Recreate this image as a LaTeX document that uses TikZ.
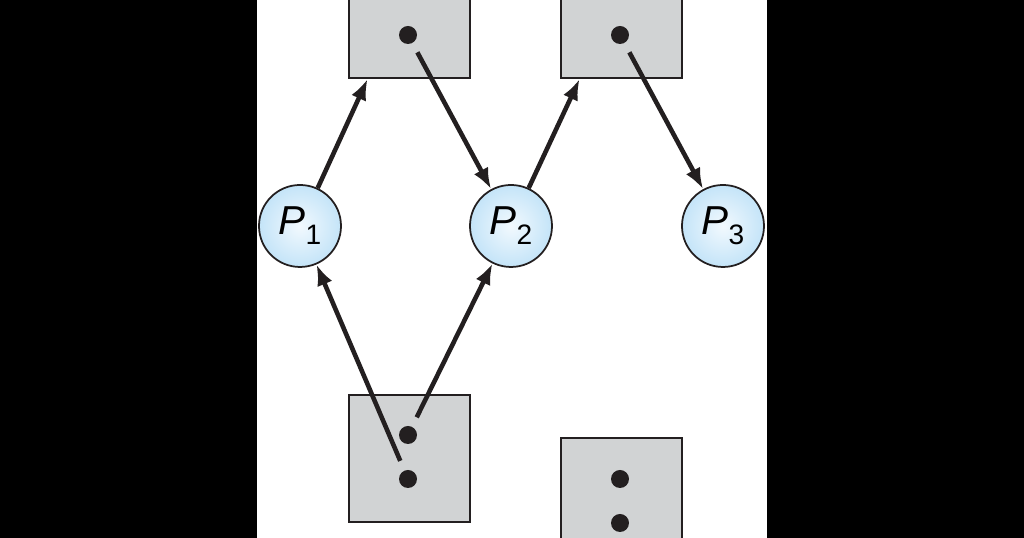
\documentclass[tikz,border=0pt]{standalone}
\usepackage{fontspec}
\setmainfont{Liberation Sans}
\usetikzlibrary{arrows.meta}
\definecolor{boxgray}{RGB}{209,211,212}
\definecolor{edge}{RGB}{35,31,32}
\definecolor{procin}{RGB}{242,249,254}
\definecolor{procout}{RGB}{196,228,248}
\newcommand\indice[1]{\raisebox{-0.1cm}{\fontsize{8}{9}\selectfont #1}}
\begin{document}
\begin{tikzpicture}[
  recurso/.style={draw=edge,line width=0.6pt,fill=boxgray,minimum width=1.21cm,minimum height=1.27cm,inner sep=0pt},
  instancia/.style={circle,fill=edge,minimum size=0.18cm,inner sep=0pt},
  processo/.style={circle,draw=edge,line width=0.5pt,inner color=procin,outer color=procout,minimum size=0.82cm,inner sep=0pt,font=\fontsize{11.5}{13}\selectfont},
  aresta/.style={draw=edge,line width=1.3pt,-{Latex[length=2.1mm,width=1.6mm]}},
  saida/.style={shorten <=1mm}]
\useasboundingbox (0,0) rectangle (10.24,5.38);
\clip (0,0) rectangle (10.24,5.38);
\fill[black] (0,0) rectangle (10.24,5.38);
\fill[white] (2.57,0) rectangle (7.67,5.38);
% recursos
\node[recurso] (r1) at (4.095,5.235) {};
\node[recurso] (r2) at (6.215,5.235) {};
\node[recurso] (r3) at (4.095,0.795) {};
\node[recurso] (r4) at (6.215,0.365) {};
\node[instancia] (r1d) at (4.08,5.03) {};
\node[instancia] (r2d) at (6.20,5.03) {};
\node[instancia] (r3a) at (4.08,1.03) {};
\node[instancia] (r3b) at (4.08,0.59) {};
\node[instancia] (r4a) at (6.20,0.59) {};
\node[instancia] (r4b) at (6.20,0.15) {};
% processos
\node[processo] (p1) at (3.00,3.12) {\textit{P}\indice{1}};
\node[processo] (p2) at (5.11,3.12) {\textit{P}\indice{2}};
\node[processo] (p3) at (7.23,3.12) {\textit{P}\indice{3}};
% arestas
\draw[aresta] (p1.65) -- (r1.-123);
\draw[aresta,saida] (r1d) -- (p2);
\draw[aresta] (p2.65) -- (r2.-123);
\draw[aresta,saida] (r2d) -- (p3);
\draw[aresta,saida] (r3b) -- (p1);
\draw[aresta,saida] (r3a) -- (p2);
\end{tikzpicture}
\end{document}
